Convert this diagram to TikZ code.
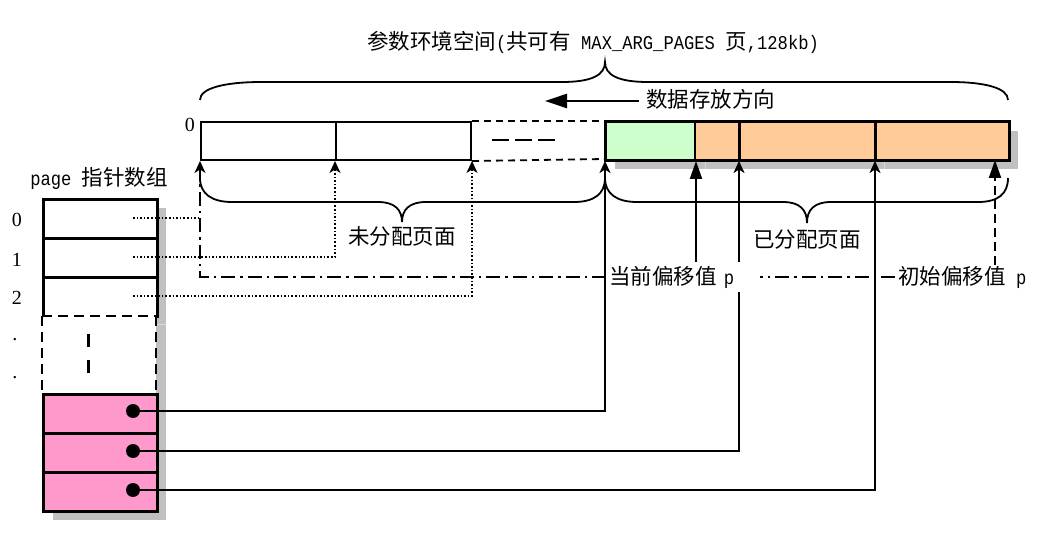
\documentclass[tikz,border=0pt]{standalone}
\usepackage{fontspec}
\setmainfont{Liberation Serif}
\newfontfamily\cjk{Noto Sans CJK SC}
\newfontfamily\lat[FakeStretch=0.88]{Liberation Mono}
\usetikzlibrary{arrows.meta}
\definecolor{pagepink}{HTML}{FF99CC}
\definecolor{freshgreen}{HTML}{CCFFCC}
\definecolor{usedorange}{HTML}{FFCC99}
\definecolor{shadowgray}{HTML}{C0C0C0}
\definecolor{shadowline}{HTML}{D8D8D8}
\tikzset{
  cell/.style={draw, line width=3pt, anchor=north west, inner sep=0pt,
    minimum width=114pt, minimum height=39pt},
  slot/.style={draw, line width=2pt, anchor=north west, inner sep=0pt,
    minimum height=38pt},
  ptr/.style={circle, fill=black, inner sep=0pt, minimum size=14pt},
  lbl/.style={inner sep=1pt, font=\cjk\fontsize{21.5}{25}\selectfont},
  num/.style={inner sep=0pt, font=\fontsize{20}{23}\selectfont},
  brace/.style={line width=1.8pt},
  link/.style={line width=2pt},
  tip/.style={-{Stealth[length=12pt,width=11pt,inset=3.5pt]}},
  bigtip/.style={-{Triangle[length=18pt,width=12pt]}},
  dotline/.style={line width=1.6pt, dash pattern=on 1.6pt off 2pt},
  dashdotline/.style={line width=1.6pt, dash pattern=on 14pt off 5pt on 2.5pt off 5pt},
}
\newcommand{\mono}[1]{{\lat\fontsize{19.5}{22}\selectfont #1}}
\begin{document}
\begin{tikzpicture}[x=1pt,y=-1pt]
\useasboundingbox (0,0) rectangle (1037,534);

% ---- title and braces ----
\node[lbl] (title) at (593,42) {参数环境空间\mono{(}共可有\mono{ MAX\_ARG\_PAGES }页\mono{,128kb)}};
\draw[brace] (200,100) .. controls (200,88) and (225,82) .. (262,82) -- (562,82)
  .. controls (592,82) and (605,75) .. (605,62)
  .. controls (605,75) and (618,82) .. (648,82) -- (950,82)
  .. controls (985,82) and (1008,88) .. (1008,100);

% ---- storage direction ----
\node[lbl, anchor=west] (dir) at (645,99) {数据存放方向};
\coordinate (dirend) at (545,101);
\draw[line width=2.5pt, -{Triangle[length=22pt,width=14pt]}] (dir.west |- dirend) ++(-6,0) -- (dirend);

% ---- argument page row ----
\node[num, anchor=east] (zero) at (195,125) {0};
\node[slot, minimum width=135pt] (u1) at (200,121) {};
\node[slot, minimum width=135pt] (u2) at (335,121) {};
\draw[line width=1.8pt, dash pattern=on 7pt off 5pt] (u2.north east) -- (605,121);
\draw[line width=1.8pt, dash pattern=on 7pt off 5pt] (u2.south east) -- (605,159);
\draw[line width=2.5pt, dash pattern=on 17pt off 6pt] (492,140) -- (556,140);

% shadow of the allocated pages
\fill[shadowgray] (615,131) rectangle (1018,169);
\draw[shadowline, line width=1pt] (705,159) -- (705,169) (884,159) -- (884,169);
\node[slot, fill=freshgreen, minimum width=89pt] (g) at (605,121) {};
\node[slot, fill=usedorange, minimum width=45pt] (o1) at (694,121) {};
\node[slot, fill=usedorange, minimum width=136pt] (o2) at (739,121) {};
\node[slot, fill=usedorange, minimum width=133pt] (o3) at (875,121) {};
\draw[line width=2.8pt] (g.north west) rectangle (o3.south east);
\draw[line width=2.8pt] (o2.north west) -- (o2.south west) (o3.north west) -- (o3.south west);

% ---- lower braces ----
\draw[brace] (200,178) .. controls (200,194) and (212,202) .. (232,202) -- (378,202)
  .. controls (395,202) and (402,210) .. (402,222)
  .. controls (402,210) and (409,202) .. (426,202) -- (574,202)
  .. controls (594,202) and (605,194) .. (605,178);
\draw[brace] (605,178) .. controls (605,194) and (617,202) .. (637,202) -- (783,202)
  .. controls (800,202) and (807,210) .. (807,223)
  .. controls (807,210) and (814,202) .. (831,202) -- (978,202)
  .. controls (998,202) and (1008,194) .. (1008,178);
\node[lbl] (free) at (402,236) {未分配页面};
\node[lbl] (alloc) at (807,240) {已分配页面};

% ---- page pointer array ----
\node[lbl, inner sep=0pt] (arrtitle) at (99,178) {\mono{page }指针数组};
\fill[shadowgray] (53,208) rectangle (166,520);
\draw[shadowline, line width=1pt] (156,325) -- (166,325);
\node[cell, fill=white] (a0) at (42,198) {};
\node[cell, fill=white] (a1) at (42,237) {};
\node[cell, fill=white] (a2) at (42,276) {};
\fill[white] (42,315) rectangle (156,393);
\draw[line width=2.8pt, dash pattern=on 10pt off 6pt]
  (42,316) -- (156,316) (42,316) -- (42,393) (156,316) -- (156,393);
\draw[line width=3pt] (88,334) -- (88,347) (88,360) -- (88,373);
\node[cell, fill=pagepink] (a5) at (42,393) {};
\node[cell, fill=pagepink] (a6) at (42,432) {};
\node[cell, fill=pagepink] (a7) at (42,471) {};

\node[num] (i0) at (17,220) {0};
\node[num] (i1) at (17,260) {1};
\node[num] (i2) at (17,298) {2};
\node[num] (i3) at (15,340) {.};
\node[num] (i4) at (15,378) {.};

% pointer origins in the array
\coordinate (r0) at (133,218);
\coordinate (r1) at (133,257);
\coordinate (r2) at (133,296);
\node[ptr] (b0) at (133,411) {};
\node[ptr] (b1) at (133,451) {};
\node[ptr] (b2) at (133,490) {};

% ---- offset labels ----
\node[lbl, anchor=west, fill=white, text width=148pt, align=left, inner xsep=3pt, inner ysep=4pt]
  (cur) at (606,277) {当前偏移值\mono{ p}};
\node[lbl, anchor=west, inner xsep=3pt] (init) at (895,277) {初始偏移值\mono{ p}};
\coordinate (p0) at (995,160);

% ---- connectors ----
% unused slots reached through the dotted pointers
\draw[dotline] (r0) -- (r0 -| u1.south west);
\draw[dotline, tip] (r1) -| (u2.south west);
\draw[dotline, tip] (r2) -| (u2.south east);
% allocated pages reached through the solid pointers
\draw[link, tip] (b0) -| (g.south west);
\draw[link] (b1) -| (o2.south west |- cur.south);
\draw[link, tip] (cur.north -| o2.south west) -- (o2.south west);
\draw[link, tip] (b2) -| (o3.south west);
% offsets p
\draw[link, bigtip] (cur.north -| g.south east) -- (g.south east);
\draw[line width=2pt, dash pattern=on 9pt off 5pt, bigtip] (init.north -| p0) -- (p0);
\draw[dashdotline] (init.west) -- (cur.east);
\draw[dashdotline, tip] (cur.west) -- (cur.west -| u1.south west) -- (u1.south west);
\end{tikzpicture}
\end{document}
